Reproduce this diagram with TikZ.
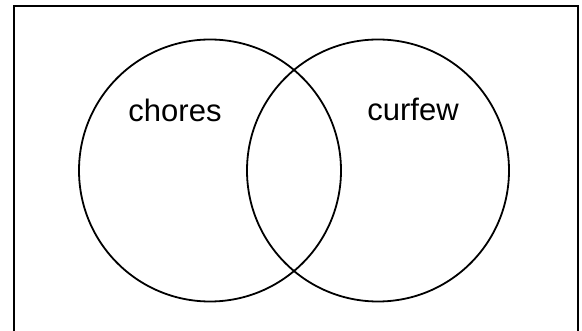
\documentclass[tikz,border=0pt]{standalone}
\usepackage{fontspec}
\setmainfont{Liberation Sans}
\usetikzlibrary{positioning}

\begin{document}
\begin{tikzpicture}[
    x=1pt, y=-1pt,
    frame/.style={draw=black, line width=2.2pt},
    set/.style={
        circle, draw=black, line width=1.8pt,
        minimum size=262pt, inner sep=0pt
    },
    lbl/.style={font=\fontsize{31}{37}\selectfont, inner sep=0pt, anchor=base}
]
\useasboundingbox (0,0) rectangle (582,331);
% universe box, open at the bottom
\draw[frame] (14,340) -- (14,6) -- (578,6) -- (578,340);
\node[set] (chores) at (210,170.5) {};
\node[set] (curfew) at (378,170.5) {};
\node[lbl] (choreslbl) at (175,122) {chores};
\node[lbl] (curfewlbl) at (413,121) {curfew};
\end{tikzpicture}
\end{document}
